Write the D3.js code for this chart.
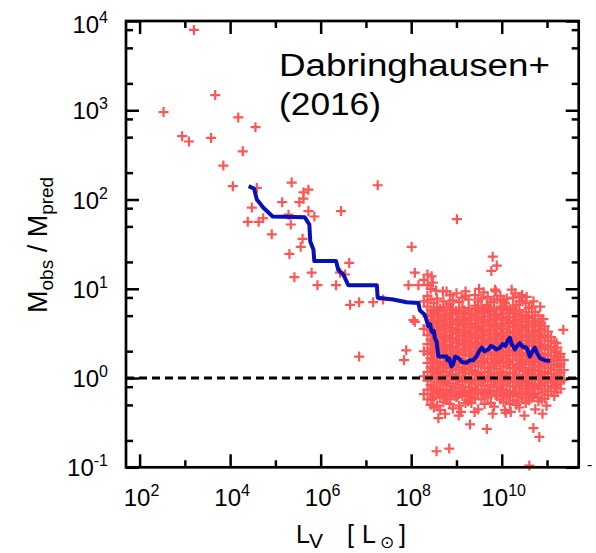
<!DOCTYPE html>
<html>
<head>
<meta charset="utf-8">
<script src="https://cdn.jsdelivr.net/npm/d3@7"></script>
<style>
  body { margin: 0; background: #fff; }
  text { font-family: "Liberation Sans", Arial, Helvetica, sans-serif; fill: #000; }
</style>
</head>
<body>
<div id="chart"></div>
<script>
// All values are log10: [log L_V, log M_obs/M_pred]
// isolated points
const sparsePoints = [
  [3.20,3.90],[3.67,3.17],[2.53,2.98],[4.18,2.92],[4.56,2.81],[2.94,2.71],[3.09,2.65],[3.58,2.69],
  [4.28,2.54],[3.85,2.38],[4.06,2.15],[4.59,2.13],[4.48,1.91],[4.39,1.75],[4.63,1.75],[4.73,1.79],
  [4.92,1.61],[5.36,2.19],[5.62,2.08],[5.73,2.11],[5.15,1.97],[5.53,1.97],[5.62,2.01],[7.26,2.16],
  [6.45,1.87],[5.73,1.87],[5.86,1.81],[5.29,1.83],[5.34,1.72],[5.60,1.56],[5.56,1.47],[5.31,1.39],
  [8.01,1.47],[6.63,1.29],[5.80,1.18],[6.43,1.18],[6.54,1.16],[5.42,1.13],[5.93,1.04],[6.34,1.04],
  [8.08,1.18],[7.94,1.04],[8.16,1.04],[6.65,0.82],[6.85,0.85],[7.16,0.85],[7.38,0.88],[9.01,1.78],
  [9.80,1.36],[9.89,1.26],[9.77,1.20],[9.87,0.97],[10.22,0.99],[10.92,0.66],[11.36,0.54],
  [8.08,0.63],[8.05,0.65],[7.89,0.31],[7.84,0.20],[6.85,0.24],[8.45,1.14],[8.48,1.07],[8.86,0.93],
  [9.85,0.99],[10.40,0.91],[10.55,0.91],[10.07,0.84],[9.67,0.82],
  [8.55,0.98],[8.70,0.97],[9.00,0.95],[9.20,0.97],[9.50,1.00],[9.60,0.96],[10.30,0.95],[10.45,0.93],
  [10.70,0.86],[10.85,0.80],
  [8.47,-0.24],[9.10,-0.38],[9.30,-0.52],[9.67,-0.57],[8.56,-0.82],[8.84,-0.79],[10.07,-0.36],
  [10.09,-0.39],[10.70,-0.56],[10.83,-0.66],[10.61,-0.98],[10.99,-0.31],[10.81,-0.26],[10.37,-0.26],
  [11.18,-0.11],[10.11,-0.21],[9.01,-0.21],[9.26,-0.26],[8.86,-0.24],[8.65,-0.13],[11.21,0.39],
  [11.25,0.24],[11.10,0.20],[11.18,0.30],[11.21,-0.08],[11.29,0.13],[11.14,-0.02],[9.33,-0.28],
  [8.60,-0.45],[8.75,-0.40],[9.05,-0.42],[9.40,-0.38],[9.80,-0.40],[10.20,-0.38],[10.50,-0.42],
  [10.90,-0.40]
];

// the dense group: one luminosity per column, mass ratios read down each column
const clusterL = [8.28,8.36,8.43,8.50,8.57,8.64,8.71,8.78,8.85,8.92,8.99,9.06,9.13,9.20,9.27,9.34,
  9.41,9.48,9.55,9.62,9.69,9.76,9.83,9.90,9.97,10.04,10.11,10.18,10.25,10.32,10.39,10.46,10.53,
  10.60,10.67,10.74,10.81,10.88,10.95,11.02,11.09,11.16,11.23,11.30,11.37];
const clusterM = [
  [1.10,0.86,0.55,0.30,0.02,-0.18],
  [1.16,1.04,0.92,0.80,0.69,0.58,0.48,0.38,0.27,0.17,0.07,-0.03,-0.13,-0.24],
  [1.00,0.88,0.76,0.65,0.54,0.43,0.33,0.22,0.12,0.02,-0.08,-0.18,-0.30],
  [0.84,0.74,0.63,0.52,0.41,0.31,0.20,0.10,0.00,-0.10,-0.21,-0.33],
  [0.89,0.79,0.68,0.57,0.46,0.36,0.25,0.15,0.05,-0.05,-0.15,-0.31],
  [0.78,0.71,0.61,0.50,0.39,0.29,0.18,0.08,-0.02,-0.12,-0.22,-0.36],
  [0.86,0.76,0.65,0.55,0.44,0.34,0.23,0.13,0.03,-0.07,-0.17,-0.27],
  [0.97,0.80,0.69,0.59,0.48,0.37,0.27,0.17,0.07,-0.03,-0.13,-0.23],
  [0.83,0.73,0.62,0.52,0.41,0.31,0.21,0.11,0.01,-0.09,-0.19,-0.29],
  [0.87,0.77,0.66,0.56,0.45,0.35,0.24,0.14,0.04,-0.06,-0.16,-0.34],
  [0.75,0.71,0.60,0.50,0.39,0.29,0.19,0.09,-0.01,-0.11,-0.21],
  [0.85,0.75,0.64,0.54,0.43,0.33,0.22,0.12,0.02,-0.08,-0.18,-0.31],
  [0.90,0.79,0.68,0.58,0.47,0.37,0.26,0.16,0.06,-0.04,-0.14,-0.20],
  [0.92,0.73,0.62,0.52,0.41,0.31,0.20,0.10,0.00,-0.10,-0.20,-0.28],
  [0.88,0.78,0.67,0.57,0.46,0.35,0.25,0.15,0.05,-0.05,-0.15,-0.25],
  [0.72,0.61,0.51,0.40,0.30,0.19,0.09,-0.01,-0.11,-0.21],
  [0.93,0.81,0.70,0.59,0.48,0.38,0.27,0.17,0.07,-0.03,-0.13,-0.23],
  [0.86,0.75,0.65,0.54,0.44,0.33,0.23,0.13,0.03,-0.07,-0.17,-0.35],
  [0.89,0.79,0.68,0.58,0.47,0.37,0.26,0.16,0.06,-0.04,-0.14,-0.24],
  [0.76,0.73,0.62,0.52,0.41,0.31,0.21,0.11,0.01,-0.09,-0.19,-0.29],
  [0.91,0.80,0.69,0.59,0.48,0.38,0.27,0.17,0.07,-0.03,-0.13,-0.22],
  [0.85,0.75,0.64,0.54,0.43,0.33,0.22,0.12,0.02,-0.08,-0.18,-0.28],
  [0.88,0.78,0.67,0.57,0.46,0.36,0.25,0.15,0.05,-0.05,-0.15,-0.32],
  [0.88,0.72,0.61,0.51,0.40,0.30,0.20,0.10,0.00,-0.10,-0.20],
  [0.92,0.80,0.69,0.58,0.48,0.37,0.27,0.17,0.07,-0.03,-0.13,-0.24],
  [0.86,0.76,0.65,0.55,0.44,0.34,0.23,0.13,0.03,-0.07,-0.17,-0.27],
  [0.89,0.79,0.68,0.58,0.47,0.37,0.26,0.16,0.06,-0.04,-0.14,-0.19],
  [0.77,0.73,0.63,0.52,0.42,0.31,0.21,0.11,0.01,-0.09,-0.19,-0.29],
  [0.90,0.79,0.68,0.57,0.46,0.36,0.25,0.15,0.05,-0.05,-0.15,-0.25],
  [0.82,0.72,0.61,0.51,0.40,0.30,0.20,0.10,0.00,-0.10,-0.20,-0.30],
  [0.86,0.76,0.65,0.55,0.44,0.34,0.23,0.13,0.03,-0.07,-0.17,-0.33],
  [0.86,0.70,0.59,0.49,0.38,0.28,0.18,0.08,-0.02,-0.12,-0.22],
  [0.84,0.74,0.63,0.53,0.42,0.32,0.21,0.11,0.01,-0.09,-0.19,-0.28],
  [0.78,0.67,0.57,0.46,0.36,0.25,0.15,0.05,-0.05,-0.15,-0.25],
  [0.80,0.70,0.60,0.49,0.39,0.28,0.18,0.08,-0.02,-0.12,-0.22],
  [0.74,0.64,0.53,0.43,0.32,0.22,0.12,0.02,-0.08,-0.18,-0.35],
  [0.70,0.60,0.49,0.39,0.28,0.18,0.08,-0.02,-0.12,-0.22],
  [0.66,0.55,0.45,0.34,0.24,0.14,0.04,-0.06,-0.16,-0.24],
  [0.58,0.48,0.37,0.27,0.17,0.07,-0.03,-0.13,-0.23],
  [0.52,0.42,0.32,0.21,0.11,0.01,-0.09,-0.19],
  [0.46,0.35,0.25,0.15,0.05,-0.05,-0.15],
  [0.40,0.29,0.19,0.09,-0.01,-0.11,-0.20],
  [0.34,0.23,0.13,0.03,-0.07,-0.16],
  [0.27,0.16,0.06,-0.04,-0.12],
  [0.20,0.09,-0.02]
];

// extra points filling the core of the dense group, between the columns above
const clusterL2 = [8.465,8.605,8.745,8.885,9.025,9.165,9.305,9.445,9.585,9.725,9.865,10.005,
  10.145,10.285,10.425,10.565,10.705,10.845];
const clusterM2 = [
  [0.71,0.60,0.49,0.38,0.28,0.17,0.07,-0.13],
  [0.75,0.64,0.53,0.42,0.32,0.11,0.01,-0.17],
  [0.70,0.58,0.47,0.36,0.26,0.15,-0.04,-0.20],
  [0.77,0.66,0.55,0.44,0.34,0.23,0.03,-0.14],
  [0.72,0.61,0.50,0.39,0.28,0.18,-0.02,-0.19],
  [0.76,0.65,0.54,0.43,0.32,0.12,0.01,-0.16],
  [0.71,0.60,0.49,0.38,0.27,0.16,-0.03,-0.18],
  [0.78,0.67,0.56,0.45,0.35,0.24,0.04,-0.14],
  [0.73,0.62,0.51,0.40,0.29,0.19,-0.01,-0.17],
  [0.76,0.65,0.54,0.43,0.33,0.12,0.02,-0.15],
  [0.71,0.60,0.49,0.39,0.28,0.18,-0.03,-0.19],
  [0.77,0.66,0.55,0.44,0.34,0.23,0.03,-0.13],
  [0.72,0.61,0.50,0.40,0.29,0.18,-0.02,-0.18],
  [0.75,0.64,0.53,0.42,0.31,0.11,0.00,-0.16],
  [0.70,0.59,0.48,0.37,0.27,0.16,-0.04,-0.19],
  [0.68,0.57,0.47,0.36,0.25,0.05,-0.06,-0.17],
  [0.63,0.52,0.41,0.30,0.20,0.09,-0.10,-0.20],
  [0.58,0.47,0.36,0.25,0.14,0.03,-0.07]
];

// running median (blue line)
const medianLine = [
  [4.41,2.15],[4.53,2.12],[4.59,2.00],[4.73,1.91],[4.94,1.81],[5.65,1.80],[5.75,1.72],[5.77,1.53],
  [5.84,1.44],[5.86,1.31],[6.34,1.31],[6.39,1.21],[6.50,1.16],[6.61,1.04],[7.24,1.04],[7.26,0.90],
  [7.60,0.88],[7.90,0.85],[8.16,0.84],[8.19,0.76],[8.30,0.71],[8.38,0.58],[8.42,0.60],[8.45,0.52],
  [8.50,0.53],[8.52,0.45],[8.56,0.41],[8.60,0.24],[8.78,0.24],[8.80,0.20],[8.84,0.22],[8.89,0.13],
  [8.93,0.16],[8.97,0.24],[9.05,0.22],[9.12,0.18],[9.22,0.17],[9.30,0.20],[9.37,0.20],[9.45,0.25],
  [9.50,0.30],[9.56,0.34],[9.62,0.30],[9.70,0.32],[9.76,0.36],[9.81,0.35],[9.88,0.32],[9.96,0.34],
  [10.02,0.38],[10.08,0.36],[10.13,0.42],[10.18,0.45],[10.22,0.38],[10.29,0.32],[10.34,0.36],
  [10.40,0.39],[10.46,0.35],[10.55,0.34],[10.62,0.24],[10.68,0.30],[10.73,0.34],[10.79,0.27],
  [10.85,0.22],[10.95,0.20],[11.07,0.19]
];

const xMajorExp = [2,4,6,8,10];
const xMinorExp = [3,5,7,9,11];
const yMajorExp = [-1,0,1,2,3,4];
const yMinorMult = [2,5,8];

const W = 596, H = 553;
const plotL = 126, plotR = 578.7, plotT = 21, plotB = 467.3;

const svg = d3.select('#chart').append('svg')
  .attr('width', W).attr('height', H)
  .attr('viewBox', `0 0 ${W} ${H}`);

const x = d3.scaleLog().domain([10 ** 1.7, 10 ** 11.7]).range([plotL, plotR]);
const y = d3.scaleLog().domain([0.1, 1e4]).range([plotB, plotT]);

// scatter data as real values
const points = sparsePoints.map(d => [10 ** d[0], 10 ** d[1]]);
clusterL.forEach((l, i) => clusterM[i].forEach(m => points.push([10 ** l, 10 ** m])));
clusterL2.forEach((l, i) => clusterM2[i].forEach(m => points.push([10 ** l, 10 ** m])));

const red = '#ff5555';
const arm = 5;
svg.append('g').selectAll('path.pt')
  .data(points)
  .join('path')
  .classed('pt', true)
  .attr('d', d => {
    const px = x(d[0]), py = y(d[1]);
    return `M${px - arm},${py}H${px + arm}M${px},${py - arm}V${py + arm}`;
  })
  .attr('stroke', red)
  .attr('stroke-width', 2.2)
  .attr('fill', 'none');

// blue median
svg.append('path')
  .datum(medianLine.map(d => [10 ** d[0], 10 ** d[1]]))
  .attr('d', d3.line().x(d => x(d[0])).y(d => y(d[1])))
  .attr('fill', 'none')
  .attr('stroke', '#0810b8')
  .attr('stroke-width', 4)
  .attr('stroke-linejoin', 'round');

// unity line
svg.append('line')
  .attr('x1', plotL).attr('x2', plotR)
  .attr('y1', y(1)).attr('y2', y(1))
  .attr('stroke', '#000').attr('stroke-width', 3)
  .attr('stroke-dasharray', '8,5');

// ticks with d3 axes
const yMinor = [];
yMajorExp.slice(0, -1).forEach(e => yMinorMult.forEach(k => yMinor.push(k * 10 ** e)));
const tickAxis = (gen, tr, size) => {
  const g = svg.append('g').attr('transform', tr)
    .call(gen.tickSize(size).tickFormat(''));
  g.select('.domain').remove();
  g.selectAll('line').attr('stroke', '#000').attr('stroke-width', 2.5);
};
const xMaj = xMajorExp.map(e => 10 ** e), xMin = xMinorExp.map(e => 10 ** e);
const yMaj = yMajorExp.map(e => 10 ** e);
tickAxis(d3.axisBottom(x).tickValues(xMaj), `translate(0,${plotB})`, -13);
tickAxis(d3.axisBottom(x).tickValues(xMin), `translate(0,${plotB})`, -7);
tickAxis(d3.axisTop(x).tickValues(xMaj), `translate(0,${plotT})`, -13);
tickAxis(d3.axisTop(x).tickValues(xMin), `translate(0,${plotT})`, -7);
tickAxis(d3.axisLeft(y).tickValues(yMaj), `translate(${plotL},0)`, -13);
tickAxis(d3.axisLeft(y).tickValues(yMinor), `translate(${plotL},0)`, -7);
tickAxis(d3.axisRight(y).tickValues(yMaj), `translate(${plotR},0)`, -13);
tickAxis(d3.axisRight(y).tickValues(yMinor), `translate(${plotR},0)`, -7);

// frame
svg.append('rect')
  .attr('x', plotL).attr('y', plotT)
  .attr('width', plotR - plotL).attr('height', plotB - plotT)
  .attr('fill', 'none').attr('stroke', '#000').attr('stroke-width', 2.7);

// tick labels
const powLabel = (sel, e) => {
  sel.append('tspan').text('10');
  sel.append('tspan').attr('font-size', 16).attr('dy', -10).text(e);
};
svg.append('g').selectAll('text')
  .data(xMajorExp)
  .join('text')
  .attr('x', d => x(10 ** d) + 2)
  .attr('y', 506)
  .attr('text-anchor', 'middle')
  .attr('font-size', 24)
  .each(function (d) { powLabel(d3.select(this), d); });
svg.append('g').selectAll('text')
  .data(yMajorExp)
  .join('text')
  .attr('x', 108)
  .attr('y', d => y(10 ** d) + (d === 4 ? 12 : 9))
  .attr('text-anchor', 'end')
  .attr('font-size', 24)
  .each(function (d) { powLabel(d3.select(this), d); });

// clipped label fragment on the right edge
svg.append('text').attr('x', 587).attr('y', 470).attr('font-size', 16).text('-');

// axis titles
const yt = svg.append('text')
  .attr('transform', 'translate(47,313) rotate(-90)')
  .attr('font-size', 27);
yt.append('tspan').text('M');
yt.append('tspan').attr('font-size', 19).attr('dy', 6).text('obs');
yt.append('tspan').attr('dy', -6).text(' / M');
yt.append('tspan').attr('font-size', 19).attr('dy', 6).text('pred');

const xt = svg.append('g').attr('font-size', 25);
xt.append('text').attr('x', 296).attr('y', 543).text('L');
xt.append('text').attr('x', 309).attr('y', 548).attr('font-size', 21).text('V');
xt.append('text').attr('x', 347).attr('y', 543).text('[');
xt.append('text').attr('x', 362).attr('y', 543).text('L');
xt.append('text').attr('x', 380).attr('y', 548)
  .attr('font-size', 17).style('font-family', '"DejaVu Sans", sans-serif').text('\u2299');
xt.append('text').attr('x', 399).attr('y', 543).text(']');

// annotation
svg.append('text').attr('x', 279).attr('y', 76).attr('font-size', 31)
  .attr('textLength', 271).attr('lengthAdjust', 'spacingAndGlyphs').text('Dabringhausen+');
svg.append('text').attr('x', 279).attr('y', 115).attr('font-size', 31)
  .attr('textLength', 102).attr('lengthAdjust', 'spacingAndGlyphs').text('(2016)');
</script>
</body>
</html>
